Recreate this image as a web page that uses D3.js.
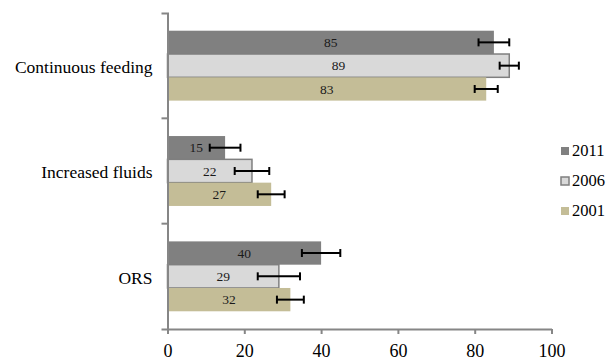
<!DOCTYPE html>
<html>
<head>
<meta charset="utf-8">
<script src="https://cdn.jsdelivr.net/npm/d3@7"></script>
<style>
  html, body { margin: 0; padding: 0; background: #fff; }
  svg text { font-family: "Liberation Serif", "Times New Roman", Times, serif !important; }
</style>
</head>
<body>
<svg id="chart" width="609" height="360"></svg>
<script>
// Categories, top to bottom
const categories = ["Continuous feeding", "Increased fluids", "ORS"];
// Survey years, drawn top to bottom inside each group
const years = ["2011", "2006", "2001"];
// Percentages per year, in category order
const values2011 = [85, 15, 40];
const values2006 = [89, 22, 29];
const values2001 = [83, 27, 32];
// Error margins (±) per year, in category order
const err2011 = [4, 4, 5];
const err2006 = [2.5, 4.5, 5.5];
const err2001 = [3, 3.5, 3.5];
const xTicks = [0, 20, 40, 60, 80, 100];

const seriesValues = { "2011": values2011, "2006": values2006, "2001": values2001 };
const seriesErr = { "2011": err2011, "2006": err2006, "2001": err2001 };
const fills = { "2011": "#808080", "2006": "#d9d9d9", "2001": "#c4bd97" };
const strokes = { "2011": "none", "2006": "#7f7f7f", "2001": "none" };

const svg = d3.select("#chart");
const axisColor = "#868686";

const x = d3.scaleLinear().domain([0, 100]).range([167.5, 551.5]);
const y0 = d3.scaleBand().domain(categories).range([13, 329]);
const y1 = d3.scaleBand().domain(years).range([0, y0.bandwidth()]).paddingOuter(0.76);

const rows = [];
categories.forEach((c, i) => {
  years.forEach(yr => {
    rows.push({ cat: c, year: yr, value: seriesValues[yr][i], err: seriesErr[yr][i] });
  });
});

// Bars
const g = svg.append("g");
g.selectAll("rect.bar").data(rows).join("rect")
  .attr("class", "bar")
  .attr("x", x(0))
  .attr("y", d => y0(d.cat) + y1(d.year))
  .attr("width", d => x(d.value) - x(0))
  .attr("height", y1.bandwidth())
  .attr("fill", d => fills[d.year])
  .attr("stroke", d => strokes[d.year])
  .attr("stroke-width", 1.5);

// Value labels
g.selectAll("text.val").data(rows).join("text")
  .attr("class", "val")
  .attr("x", d => (x(0) + x(d.value)) / 2)
  .attr("y", d => y0(d.cat) + y1(d.year) + y1.bandwidth() / 2)
  .attr("dy", "0.35em")
  .attr("text-anchor", "middle")
  .attr("font-size", 13.5)
  .attr("fill", "#1a1a1a")
  .text(d => d.value);

// Error bars
const eb = g.selectAll("g.err").data(rows).join("g").attr("class", "err")
  .attr("stroke", "#000").attr("stroke-width", 2);
const cy = d => y0(d.cat) + y1(d.year) + y1.bandwidth() / 2;
eb.append("line")
  .attr("x1", d => x(d.value - d.err)).attr("x2", d => x(d.value + d.err))
  .attr("y1", cy).attr("y2", cy);
eb.append("line")
  .attr("x1", d => x(d.value - d.err)).attr("x2", d => x(d.value - d.err))
  .attr("y1", d => cy(d) - 4).attr("y2", d => cy(d) + 4);
eb.append("line")
  .attr("x1", d => x(d.value + d.err)).attr("x2", d => x(d.value + d.err))
  .attr("y1", d => cy(d) - 4).attr("y2", d => cy(d) + 4);

// X axis
const xAxis = svg.append("g")
  .attr("transform", `translate(0,329)`)
  .call(d3.axisBottom(x).tickValues(xTicks).tickSize(5).tickSizeOuter(0).tickPadding(10));
xAxis.selectAll("path, line").attr("stroke", axisColor).attr("stroke-width", 2);
xAxis.selectAll("text").attr("font-size", 18).attr("fill", "#000");

// Y axis: labels centred on each band, ticks at band boundaries
const yAxis = svg.append("g")
  .attr("transform", `translate(${x(0)},0)`)
  .call(d3.axisLeft(y0).tickSizeInner(0).tickSizeOuter(6).tickPadding(15));
yAxis.select("path").attr("stroke", axisColor).attr("stroke-width", 2);
yAxis.selectAll("text").attr("font-size", 17.5).attr("fill", "#000").attr("dy", "0.42em");
yAxis.selectAll("line.boundary").data(categories.slice(1)).join("line")
  .attr("class", "boundary")
  .attr("x1", -6).attr("x2", 0)
  .attr("y1", d => y0(d)).attr("y2", d => y0(d))
  .attr("stroke", axisColor).attr("stroke-width", 2);

// Legend
const legend = svg.append("g").attr("transform", "translate(561,151)");
const li = legend.selectAll("g").data(years).join("g")
  .attr("transform", (d, i) => `translate(0,${i * 30})`);
li.append("rect")
  .attr("x", 0).attr("y", -4).attr("width", 8).attr("height", 8)
  .attr("fill", d => fills[d])
  .attr("stroke", d => strokes[d])
  .attr("stroke-width", 1.5);
li.append("text")
  .attr("x", 11).attr("y", 0).attr("dy", "0.33em")
  .attr("font-size", 16.5).attr("fill", "#000")
  .text(d => d);
</script>
</body>
</html>
